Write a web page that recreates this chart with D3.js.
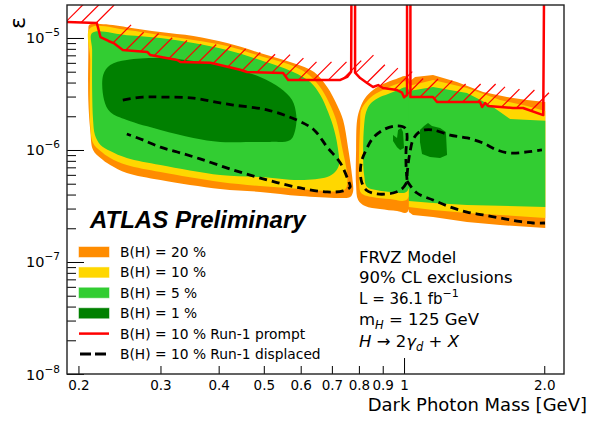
<!DOCTYPE html>
<html>
<head>
<meta charset="utf-8">
<script src="https://cdn.jsdelivr.net/npm/d3@7/dist/d3.min.js"></script>
<style>
  body { margin: 0; background: #fff; }
  svg { display: block; font-family: "DejaVu Sans", sans-serif; }
</style>
</head>
<body>
<svg id="chart" width="589" height="421"></svg>
<script>
// axis ticks
const massTicks = [0.2, 0.3, 0.4, 0.5, 0.6, 0.7, 0.8, 0.9, 1, 2];
const massTickLabels = ['0.2', '0.3', '0.4', '0.5', '0.6', '0.7', '0.8', '0.9', '1', '2.0'];
const epsDecades = [1e-8, 1e-7, 1e-6, 1e-5];
const epsDecadeExps = ['\u22128', '\u22127', '\u22126', '\u22125'];

// exclusion contours [dark photon mass (GeV), epsilon]
// low mass lobe
const br20Left = [[0.210,1.18e-5],[0.211,1.31e-5],[0.223,1.33e-5],[0.254,1.25e-5],[0.300,1.13e-5],[0.353,1.04e-5],[0.417,9.0e-6],[0.491,7.35e-6],[0.578,5.98e-6],[0.641,4.97e-6],[0.684,3.65e-6],[0.718,2.52e-6],[0.740,1.85e-6],[0.758,1.06e-6],[0.774,5.74e-7],[0.777,4.22e-7],[0.766,3.80e-7],[0.730,3.73e-7],[0.599,3.88e-7],[0.491,4.22e-7],[0.403,4.49e-7],[0.300,5.40e-7],[0.254,6.24e-7],[0.234,7.35e-7],[0.223,8.49e-7],[0.215,1.0e-6],[0.212,1.51e-6],[0.210,2.79e-6],[0.210,7.81e-6]];
const br10Left = [[0.212,1.23e-5],[0.254,1.18e-5],[0.300,1.06e-5],[0.353,9.6e-6],[0.417,8.48e-6],[0.491,6.9e-6],[0.578,5.62e-6],[0.629,4.58e-6],[0.667,3.43e-6],[0.694,2.52e-6],[0.715,1.85e-6],[0.736,1.06e-6],[0.755,5.98e-7],[0.751,4.58e-7],[0.730,4.31e-7],[0.599,4.49e-7],[0.491,4.77e-7],[0.403,5.18e-7],[0.300,6.36e-7],[0.254,7.35e-7],[0.234,8.49e-7],[0.223,9.8e-7],[0.215,1.155e-6],[0.212,1.67e-6],[0.212,6.36e-6]];
const br5Left = [[0.214,1.11e-5],[0.254,1.06e-5],[0.300,1.0e-5],[0.353,9.0e-6],[0.417,7.81e-6],[0.491,6.36e-6],[0.578,4.97e-6],[0.629,4.05e-6],[0.661,3.10e-6],[0.687,2.18e-6],[0.708,1.51e-6],[0.722,1.0e-6],[0.725,7.35e-7],[0.711,6.36e-7],[0.684,5.74e-7],[0.599,5.40e-7],[0.491,5.74e-7],[0.403,5.98e-7],[0.300,7.35e-7],[0.254,8.49e-7],[0.234,9.8e-7],[0.223,1.11e-6],[0.217,1.36e-6],[0.215,1.85e-6],[0.214,3.43e-6],[0.214,7.81e-6]];
const br1Left = [[0.226,4.67e-6],[0.234,5.74e-6],[0.254,6.36e-6],[0.300,6.63e-6],[0.353,6.24e-6],[0.417,5.51e-6],[0.491,4.49e-6],[0.542,3.58e-6],[0.575,2.79e-6],[0.587,2.05e-6],[0.584,1.51e-6],[0.570,1.23e-6],[0.516,1.18e-6],[0.468,1.18e-6],[0.403,1.18e-6],[0.353,1.28e-6],[0.300,1.51e-6],[0.254,1.85e-6],[0.234,2.18e-6],[0.227,2.79e-6]];
// middle lobe
const br20Mid = [[0.789,1.0e-6],[0.793,1.85e-6],[0.805,2.37e-6],[0.825,2.91e-6],[0.858,3.43e-6],[0.901,3.88e-6],[0.962,4.31e-6],[1.017,4.49e-6],[1.017,2.79e-7],[0.966,2.85e-7],[0.888,2.97e-7],[0.825,3.16e-7],[0.797,3.58e-7],[0.789,4.87e-7]];
const br10Mid = [[0.801,1.0e-6],[0.805,1.67e-6],[0.809,2.28e-6],[0.833,2.74e-6],[0.867,3.16e-6],[0.910,3.51e-6],[0.966,3.88e-6],[1.017,4.05e-6],[1.017,3.65e-7],[0.933,3.65e-7],[0.854,3.80e-7],[0.809,4.13e-7],[0.801,5.40e-7]];
const br5Mid = [[0.817,1.0e-6],[0.821,1.67e-6],[0.829,2.18e-6],[0.846,2.58e-6],[0.880,2.91e-6],[0.924,3.16e-6],[0.971,3.43e-6],[1.017,3.58e-6],[1.017,4.31e-7],[0.942,4.22e-7],[0.871,4.40e-7],[0.833,4.67e-7],[0.821,5.98e-7]];
const br1Mid = [[0.947,1.36e-6],[0.966,1.28e-6],[0.971,1.51e-6],[0.986,1.57e-6],[0.995,1.45e-6],[1.0,1.04e-6],[0.981,1.0e-6],[0.966,1.06e-6],[0.947,1.2e-6]];
// high mass lobe
const br20Right = [[1.024,4.05e-6],[1.056,4.49e-6],[1.154,4.67e-6],[1.299,4.05e-6],[1.478,3.30e-6],[1.663,2.97e-6],[1.837,2.79e-6],[2.01,2.68e-6],[2.01,2.01e-7],[1.608,2.14e-7],[1.365,2.28e-7],[1.154,2.52e-7],[1.045,2.63e-7],[1.024,2.79e-7]];
const br10Right = [[1.024,3.73e-6],[1.154,4.22e-6],[1.365,3.58e-6],[1.608,2.79e-6],[1.837,2.47e-6],[2.01,2.23e-6],[2.01,2.47e-7],[1.608,2.63e-7],[1.365,2.74e-7],[1.154,2.91e-7],[1.024,3.10e-7]];
const br5Right = [[1.024,3.36e-6],[1.154,3.65e-6],[1.365,3.23e-6],[1.530,2.52e-6],[1.608,2.18e-6],[1.689,1.89e-6],[2.01,1.82e-6],[2.01,3.10e-7],[1.365,3.23e-7],[1.154,3.36e-7],[1.024,3.51e-7]];
const br1Right = [[1.082,1.51e-6],[1.104,1.64e-6],[1.126,1.74e-6],[1.148,1.64e-6],[1.195,1.57e-6],[1.230,1.45e-6],[1.237,9.0e-7],[1.195,8.49e-7],[1.137,8.66e-7],[1.093,9.2e-7],[1.082,1.18e-6]];

// Run-1 limits, B(H) = 10 %
const run1Prompt = [[0.185,1.39e-5],[0.219,1.36e-5],[0.223,1.02e-5],[0.232,9.4e-6],[0.238,9.0e-6],[0.249,7.8e-6],[0.281,7.5e-6],[0.285,7.05e-6],[0.326,6.36e-6],[0.331,6.1e-6],[0.384,6.0e-6],[0.445,5.2e-6],[0.460,4.97e-6],[0.550,4.87e-6],[0.564,4.22e-6],[0.730,4.22e-6],[0.755,4.49e-6],[0.770,5.0e-6],[0.7715,5e-5],[0.785,5e-5],[0.785,4.9e-6],[0.805,4.39e-6],[0.833,3.97e-6],[0.858,3.65e-6],[0.880,3.8e-6],[0.901,3.58e-6],[0.966,3.43e-6],[0.990,3.25e-6],[1.000,2.95e-6],[1.015,3.1e-6],[1.015,5e-5],[1.032,5e-5],[1.032,2.97e-6],[1.154,2.97e-6],[1.177,2.68e-6],[1.456,2.68e-6],[1.471,2.42e-6],[1.493,2.63e-6],[1.515,2.47e-6],[1.713,2.37e-6],[1.801,2.37e-6],[1.99,2.05e-6],[2.0,5e-5]];
const run1DispLeft = [[0.249,2.79e-6],[0.275,2.97e-6],[0.300,2.97e-6],[0.353,2.91e-6],[0.403,2.63e-6],[0.430,2.52e-6],[0.508,2.28e-6],[0.589,1.85e-6],[0.641,1.51e-6],[0.684,1.06e-6],[0.730,7.66e-7],[0.758,5.40e-7],[0.766,4.67e-7],[0.740,4.31e-7],[0.684,4.22e-7],[0.599,4.58e-7],[0.508,5.40e-7],[0.430,6.63e-7],[0.365,8.32e-7],[0.326,9.6e-7],[0.300,1.06e-6],[0.275,1.23e-6],[0.254,1.39e-6]];
const run1DispMid = [[1.015,5.4e-7],[1.010,7.35e-7],[1.010,1.0e-6],[1.015,1.36e-6],[1.005,1.57e-6],[0.966,1.64e-6],[0.910,1.54e-6],[0.858,1.28e-6],[0.829,1.0e-6],[0.809,7.66e-7],[0.809,5.4e-7],[0.829,4.4e-7],[0.875,4.05e-7],[0.947,4.13e-7],[0.990,4.49e-7],[1.015,5.18e-7]];
const run1DispRightUpper = [[1.015,5.86e-7],[1.020,7.35e-7],[1.030,9.6e-7],[1.045,1.23e-6],[1.072,1.42e-6],[1.109,1.51e-6],[1.154,1.51e-6],[1.256,1.36e-6],[1.365,1.28e-6],[1.478,1.155e-6],[1.583,1.0e-6],[1.689,9.4e-7],[1.837,9.6e-7],[1.977,1.0e-6]];
const run1DispRightLower = [[1.015,5.28e-7],[1.066,4.13e-7],[1.154,3.58e-7],[1.256,3.10e-7],[1.365,2.79e-7],[1.478,2.63e-7],[1.608,2.47e-7],[1.748,2.32e-7],[1.892,2.23e-7],[2.007,2.23e-7]];

const legendLabels = ['B(H) = 20 %', 'B(H) = 10 %', 'B(H) = 5 %', 'B(H) = 1 %',
  'B(H) = 10 % Run-1 prompt', 'B(H) = 10 % Run-1 displaced'];

const colors = { br20: '#ff8c00', br10: '#ffd700', br5: '#32cd32', br1: '#008000', prompt: '#ff0000' };

const svg = d3.select('#chart');
const box = { left: 67, right: 564, top: 5, bottom: 374 };

const x = d3.scaleLog().domain([0.189, 2.205]).range([box.left, box.right]);
const y = d3.scaleLog().domain([1e-8, 1.97e-5]).range([box.bottom, box.top]);

svg.append('defs').append('clipPath').attr('id', 'plotClip')
  .append('rect')
  .attr('x', box.left).attr('y', box.top)
  .attr('width', box.right - box.left).attr('height', box.bottom - box.top);

const plot = svg.append('g').attr('clip-path', 'url(#plotClip)');

const smoothArea = d3.line().x(d => x(d[0])).y(d => y(d[1])).curve(d3.curveCatmullRomClosed.alpha(0.5));
const flatArea = d3.line().x(d => x(d[0])).y(d => y(d[1])).curve(d3.curveLinearClosed);
const smoothLine = d3.line().x(d => x(d[0])).y(d => y(d[1])).curve(d3.curveCatmullRom.alpha(0.5));
const flatLine = d3.line().x(d => x(d[0])).y(d => y(d[1]));

// filled contours, widest band first
const bands = [
  [br20Left, 'br20', smoothArea], [br20Mid, 'br20', smoothArea], [br20Right, 'br20', flatArea],
  [br10Left, 'br10', smoothArea], [br10Mid, 'br10', smoothArea], [br10Right, 'br10', flatArea],
  [br5Left, 'br5', smoothArea], [br5Mid, 'br5', smoothArea], [br5Right, 'br5', flatArea],
  [br1Left, 'br1', smoothArea], [br1Mid, 'br1', flatArea], [br1Right, 'br1', flatArea],
];
bands.forEach(([pts, key, gen]) => {
  plot.append('path')
    .attr('d', gen(pts))
    .attr('fill', colors[key])
    .attr('stroke', 'none');
});

// Run-1 displaced
[run1DispLeft, run1DispMid, run1DispRightUpper, run1DispRightLower].forEach(pts => {
  plot.append('path')
    .attr('d', smoothLine(pts))
    .attr('fill', 'none')
    .attr('stroke', '#000')
    .attr('stroke-width', 2.8)
    .attr('stroke-dasharray', '8,5');
});

// Run-1 prompt with hatching on excluded side
const promptPath = plot.append('path')
  .attr('d', flatLine(run1Prompt))
  .attr('fill', 'none')
  .attr('stroke', colors.prompt)
  .attr('stroke-width', 2.5)
  .attr('stroke-linejoin', 'round');

const node = promptPath.node();
const total = node.getTotalLength();
const hatchGap = 15;
const hatches = [];
let acc = 12;
let prev = node.getPointAtLength(0);
for (let s = 0.5; s <= total; s += 0.5) {
  const p = node.getPointAtLength(s);
  const dx = p.x - prev.x;
  const dy = p.y - prev.y;
  // skip the near-vertical spikes
  if (Math.abs(dx) > 1e-3 && Math.abs(dy) < 2.5 * Math.abs(dx)) {
    acc += Math.hypot(dx, dy);
    if (acc >= hatchGap) {
      acc -= hatchGap;
      hatches.push([p.x, p.y]);
    }
  }
  prev = p;
}
plot.append('g')
  .selectAll('line')
  .data(hatches)
  .join('line')
  .attr('x1', d => d[0]).attr('y1', d => d[1])
  .attr('x2', d => d[0] + 18).attr('y2', d => d[1] - 18)
  .attr('stroke', colors.prompt)
  .attr('stroke-width', 1.2);

// axes
const isMajor = d => Math.abs(Math.log10(d) - Math.round(Math.log10(d))) < 1e-9;

const xAxis = svg.append('g')
  .attr('transform', `translate(0,${box.bottom})`)
  .call(d3.axisBottom(x)
    .tickValues(massTicks)
    .tickFormat((d, i) => massTickLabels[i])
    .tickSizeInner(-8)
    .tickSizeOuter(0)
    .tickPadding(6.5));
xAxis.select('.domain').remove();
xAxis.selectAll('.tick line').attr('y2', d => (d === 1 ? -16 : -8)).attr('stroke', '#000');
xAxis.selectAll('.tick text')
  .attr('font-family', '"DejaVu Sans", sans-serif')
  .attr('font-size', 13.5)
  .attr('fill', '#000');

const yAxis = svg.append('g')
  .attr('transform', `translate(${box.left},0)`)
  .call(d3.axisLeft(y)
    .tickValues(y.ticks())
    .tickFormat('')
    .tickSizeOuter(0));
yAxis.select('.domain').remove();
yAxis.selectAll('.tick line').attr('x2', d => (isMajor(d) ? 17 : 9)).attr('stroke', '#000');
yAxis.selectAll('.tick')
  .filter(d => isMajor(d))
  .each(function (d) {
    const i = epsDecades.findIndex(v => Math.abs(Math.log10(v) - Math.log10(d)) < 1e-9);
    if (i < 0) return;
    const t = d3.select(this).select('text')
      .attr('x', -7)
      .attr('dy', null)
      .attr('y', 5)
      .attr('text-anchor', 'end')
      .attr('font-family', '"DejaVu Sans", sans-serif')
      .attr('font-size', 14.5)
      .attr('fill', '#000');
    t.text('10');
    t.append('tspan').attr('dy', -7).attr('font-size', 10.5).text(epsDecadeExps[i]);
  });

// frame
svg.append('rect')
  .attr('x', box.left).attr('y', box.top)
  .attr('width', box.right - box.left).attr('height', box.bottom - box.top)
  .attr('fill', 'none')
  .attr('stroke', '#222')
  .attr('stroke-width', 1.4);

// axis titles
svg.append('text')
  .attr('x', 587).attr('y', 411)
  .attr('text-anchor', 'end')
  .attr('font-size', 18)
  .text('Dark Photon Mass [GeV]');
svg.append('text')
  .attr('transform', 'translate(25,23) rotate(-90)')
  .attr('text-anchor', 'middle')
  .attr('font-size', 22)
  .text('\u03b5');

// ATLAS label
svg.append('text')
  .attr('x', 90).attr('y', 228)
  .attr('font-family', '"Liberation Sans", Arial, sans-serif')
  .attr('font-weight', 'bold')
  .attr('font-style', 'italic')
  .attr('font-size', 24)
  .text('ATLAS Preliminary');

// legend
const legend = svg.append('g').attr('font-size', 13.8);
const rowY = d3.scalePoint().domain(d3.range(legendLabels.length)).range([252, 354]);
legendLabels.forEach((label, i) => {
  const cy = rowY(i);
  if (i < 4) {
    const key = ['br20', 'br10', 'br5', 'br1'][i];
    legend.append('rect')
      .attr('x', 79).attr('y', cy - 5).attr('width', 30).attr('height', 10)
      .attr('fill', colors[key])
      .attr('stroke', colors[key]).attr('stroke-opacity', 0.5);
  } else if (i === 4) {
    legend.append('line')
      .attr('x1', 79).attr('x2', 109).attr('y1', cy).attr('y2', cy)
      .attr('stroke', colors.prompt).attr('stroke-width', 2.5);
  } else {
    legend.append('line')
      .attr('x1', 80).attr('x2', 107).attr('y1', cy).attr('y2', cy)
      .attr('stroke', '#000').attr('stroke-width', 3)
      .attr('stroke-dasharray', '11,4');
  }
  legend.append('text').attr('x', 120).attr('y', cy + 5).text(label);
});

// model description
const info = svg.append('g').attr('font-size', 16.5);
info.append('text').attr('x', 359).attr('y', 263).text('FRVZ Model');
info.append('text').attr('x', 359).attr('y', 283).text('90% CL exclusions');
const lumi = info.append('text').attr('x', 359).attr('y', 304).attr('font-size', 15).text('L = 36.1 fb');
lumi.append('tspan').attr('dy', -7).attr('font-size', 11).text('\u22121');
const mh = info.append('text').attr('x', 359).attr('y', 325).text('m');
mh.append('tspan').attr('dy', 4).attr('font-size', 11.5).attr('font-style', 'italic').text('H');
mh.append('tspan').attr('dy', -4).text(' = 125 GeV');
const decay = info.append('text').attr('x', 359).attr('y', 347);
decay.append('tspan').attr('font-style', 'italic').text('H');
decay.append('tspan').text(' \u2192 2');
decay.append('tspan').attr('font-style', 'italic').text('\u03b3');
decay.append('tspan').attr('dy', 4).attr('font-size', 11.5).attr('font-style', 'italic').text('d');
decay.append('tspan').attr('dy', -4).text(' + ');
decay.append('tspan').attr('font-style', 'italic').text('X');
</script>
</body>
</html>
